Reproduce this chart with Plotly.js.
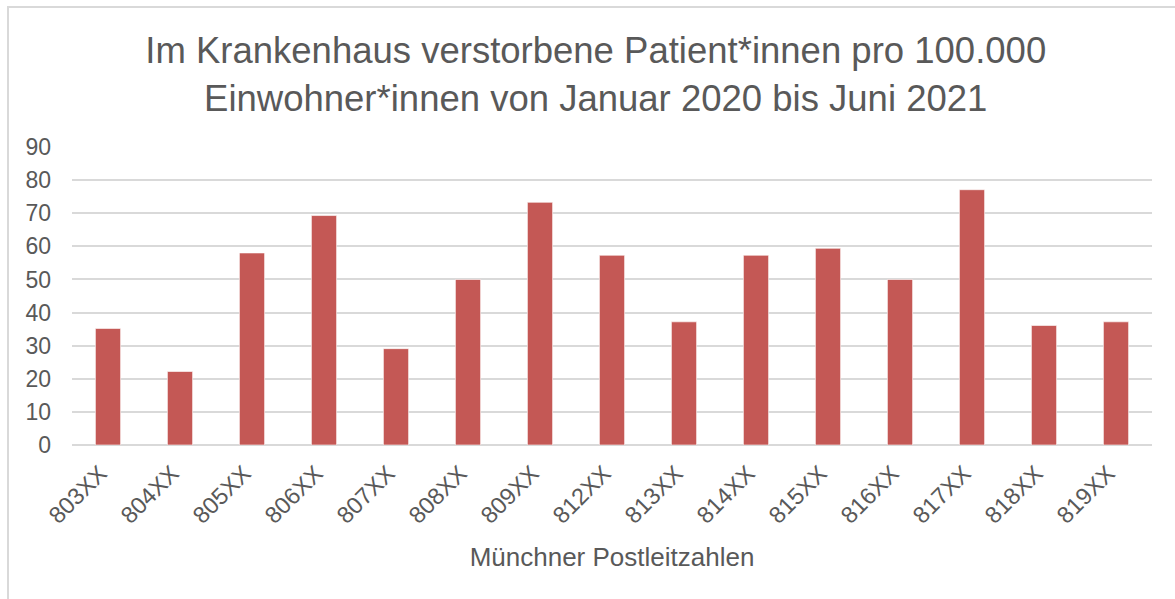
<!DOCTYPE html>
<html>
<head>
<meta charset="utf-8">
<script src="https://cdn.plot.ly/plotly-3.0.1.min.js"></script>
<style>
  html, body { margin: 0; padding: 0; background: #fff; overflow: hidden; }
  #frame { position: absolute; left: 7px; top: 6px; width: 1300px; height: 700px;
           border-left: 2px solid #d9d9d9; border-top: 2px solid #d9d9d9;
           z-index: 5; pointer-events: none; }
  #chart { position: absolute; left: 0; top: 0; width: 1175px; height: 599px; }
</style>
</head>
<body>
<div id="chart"></div>
<div id="frame"></div>
<script>
const categories = ["803XX","804XX","805XX","806XX","807XX","808XX","809XX","812XX","813XX","814XX","815XX","816XX","817XX","818XX","819XX"];
const values = [35.2, 22.2, 58.0, 69.3, 29.1, 50.0, 73.3, 57.3, 37.2, 57.3, 59.4, 50.0, 77.1, 36.1, 37.2];
const yTicks = [0, 10, 20, 30, 40, 50, 60, 70, 80, 90];
const titleText = "Im Krankenhaus verstorbene Patient*innen pro 100.000<br>Einwohner*innen von Januar 2020 bis Juni 2021";
const xTitleText = "Münchner Postleitzahlen";

const font = "Liberation Sans, Arial, sans-serif";
const textColor = "#595959";

const trace = {
  type: "bar",
  x: categories,
  y: values,
  marker: { color: "#C45855", line: { color: "rgba(255,255,255,0.6)", width: 1 } },
  hoverinfo: "x+y"
};

const layout = {
  width: 1175,
  height: 599,
  paper_bgcolor: "rgba(0,0,0,0)",
  plot_bgcolor: "rgba(0,0,0,0)",
  margin: { l: 72, r: 23, t: 147, b: 154 },
  bargap: 0.65,
  showlegend: false,
  font: { family: font, color: textColor },
  title: {
    text: titleText,
    font: { family: font, size: 36.5, color: textColor },
    xref: "container", x: 0.507, xanchor: "center",
    yref: "container", y: 0.894, yanchor: "top"
  },
  xaxis: {
    type: "category",
    tickangle: -45,
    tickfont: { family: font, size: 23.5, color: textColor },
    ticklabelstandoff: 9,
    ticklabelshift: -8,
    showgrid: false,
    showline: false,
    ticks: "",
    automargin: false,
    title: { text: xTitleText, font: { family: font, size: 26, color: textColor }, standoff: 20 }
  },
  yaxis: {
    range: [0, 90],
    tickvals: yTicks,
    ticktext: yTicks.map(String),
    tickfont: { family: font, size: 23, color: textColor },
    showgrid: true,
    gridcolor: "#d9d9d9",
    gridwidth: 2,
    zeroline: true,
    zerolinecolor: "#d9d9d9",
    zerolinewidth: 2,
    showline: false,
    ticks: "",
    ticklabelstandoff: 20,
    automargin: false,
    fixedrange: true
  }
};

Plotly.newPlot("chart", [trace], layout, { displayModeBar: false, staticPlot: true });
</script>
</body>
</html>
